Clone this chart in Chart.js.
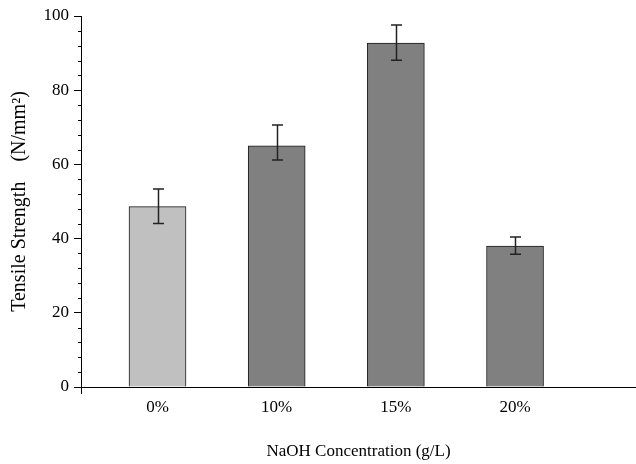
<!DOCTYPE html>
<html>
<head>
<meta charset="utf-8">
<script src="https://cdn.jsdelivr.net/npm/chart.js@4.4.1/dist/chart.umd.min.js"></script>
<style>
  html, body { margin: 0; padding: 0; background: #fff; }
  #wrap { width: 636px; height: 464px; }
</style>
</head>
<body>
<div id="wrap"><canvas id="chart1" width="636" height="464"></canvas></div>
<script>
const categories = ['0%', '10%', '15%', '20%'];
const positions = [1, 2, 3, 4];
const strength = [48.6, 65.0, 92.7, 38.0];
const errLow = [44.1, 61.2, 88.1, 35.8];
const errHigh = [53.4, 70.6, 97.6, 40.4];
const barColors = ['#c0c0c0', '#808080', '#808080', '#808080'];
const yTicks = [0, 20, 40, 60, 80, 100];

const fontFamily = '"Liberation Serif", "Times New Roman", serif';

// error bars + minor ticks on the y axis
const extrasPlugin = {
    id: 'extras',
    afterDatasetsDraw(chart) {
        const ctx = chart.ctx;
        const x = chart.scales.x;
        const y = chart.scales.y;
        ctx.save();
        ctx.strokeStyle = '#222';
        ctx.lineWidth = 1.5;
        positions.forEach((p, i) => {
            const px = Math.round(x.getPixelForValue(p)) + 0.5;
            const top = y.getPixelForValue(errHigh[i]);
            const bot = y.getPixelForValue(errLow[i]);
            ctx.beginPath();
            ctx.moveTo(px, top);
            ctx.lineTo(px, bot);
            ctx.moveTo(px - 5.5, top);
            ctx.lineTo(px + 5.5, top);
            ctx.moveTo(px - 5.5, bot);
            ctx.lineTo(px + 5.5, bot);
            ctx.stroke();
        });
        ctx.restore();
    },
    afterDraw(chart) {
        const ctx = chart.ctx;
        const y = chart.scales.y;
        const left = chart.chartArea.left;
        ctx.save();
        ctx.strokeStyle = '#000';
        ctx.lineWidth = 1;
        for (let v = 4; v < 100; v += 4) {
            if (v % 20 === 0) continue;
            const py = Math.round(y.getPixelForValue(v)) + 0.5;
            ctx.beginPath();
            ctx.moveTo(left - 3, py);
            ctx.lineTo(left, py);
            ctx.stroke();
        }
        // small tick below the origin
        const bottom = chart.chartArea.bottom;
        ctx.beginPath();
        ctx.moveTo(left + 0.5, bottom);
        ctx.lineTo(left + 0.5, bottom + 7);
        ctx.stroke();
        ctx.restore();
    }
};

const ctx = document.getElementById('chart1').getContext('2d');
new Chart(ctx, {
    type: 'bar',
    data: {
        datasets: [{
            data: positions.map((p, i) => ({ x: p, y: strength[i] })),
            backgroundColor: barColors,
            borderColor: '#1a1a1a',
            borderWidth: 1,
            borderSkipped: 'bottom',
            barThickness: 57
        }]
    },
    options: {
        responsive: false,
        animation: false,
        layout: { padding: { top: 16, right: 0, left: 0, bottom: 0 } },
        plugins: {
            legend: { display: false },
            tooltip: { enabled: false }
        },
        scales: {
            x: {
                type: 'linear',
                offset: false,
                min: 0.358,
                max: 5.015,
                afterFit: scale => { scale.height = 77; },
                afterBuildTicks: scale => {
                    scale.ticks = positions.map(p => ({ value: p }));
                },
                ticks: {
                    autoSkip: false,
                    maxRotation: 0,
                    padding: 2,
                    color: '#000',
                    font: { family: fontFamily, size: 17 },
                    callback: (value) => categories[positions.indexOf(value)] || ''
                },
                grid: { display: false, drawOnChartArea: false },
                border: { display: true, color: '#000', width: 1 },
                title: {
                    display: true,
                    text: 'NaOH Concentration (g/L)',
                    color: '#000',
                    font: { family: fontFamily, size: 17 },
                    padding: { top: 0, bottom: 2 }
                }
            },
            y: {
                min: 0,
                max: 100,
                afterFit: scale => { scale.width = 81; },
                afterBuildTicks: scale => {
                    scale.ticks = yTicks.map(v => ({ value: v }));
                },
                ticks: {
                    color: '#000',
                    padding: 5,
                    font: { family: fontFamily, size: 17 }
                },
                grid: {
                    drawOnChartArea: false,
                    drawTicks: true,
                    tickLength: 7,
                    color: '#000'
                },
                border: { display: true, color: '#000', width: 1 },
                title: {
                    display: true,
                    text: 'Tensile Strength    (N/mm\u00B2)',
                    color: '#000',
                    font: { family: fontFamily, size: 20 },
                    padding: { top: 8, bottom: 0 }
                }
            }
        }
    },
    plugins: [extrasPlugin]
});
</script>
</body>
</html>
